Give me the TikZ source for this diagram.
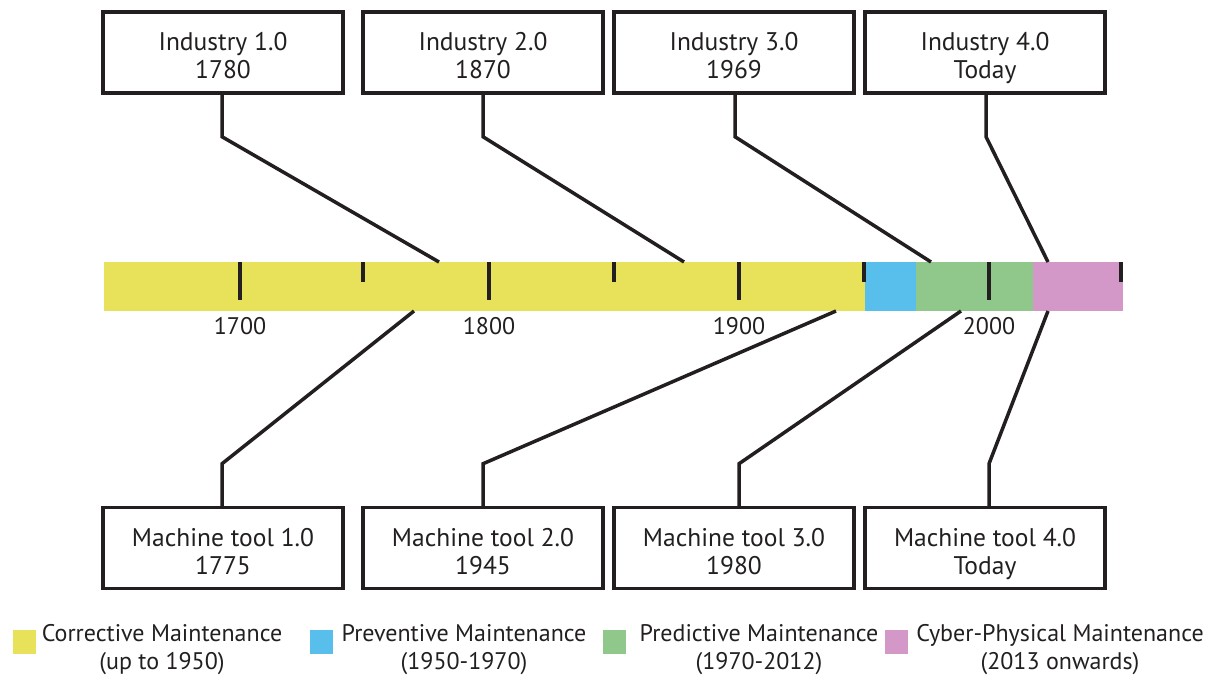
\documentclass[tikz,border=0pt]{standalone}
\usepackage{fontspec}
\setmainfont{PT Sans}
\definecolor{cyel}{RGB}{232,226,90}
\definecolor{cblu}{RGB}{88,190,236}
\definecolor{cgrn}{RGB}{144,200,140}
\definecolor{cpnk}{RGB}{212,152,200}
\definecolor{ink}{RGB}{35,31,32}
\newcommand{\lowline}{\vphantom{y}}
\newcommand{\highline}{\rule{0pt}{30pt}}
\begin{document}
\begin{tikzpicture}[x=1pt,y=-1pt,
  box/.style={draw=ink, line width=3.5pt, fill=white, minimum width=240pt, minimum height=81pt,
    align=center, inner sep=0pt, text=ink, font=\fontsize{25.5}{28}\selectfont},
  conn/.style={line width=3.5pt, draw=ink, line join=miter},
  tickmark/.style={line width=3.5pt, draw=ink},
  yearlbl/.style={font=\fontsize{24}{27}\selectfont, inner sep=0pt, text=ink},
  legtxt/.style={align=center, inner sep=0pt, text=ink, font=\fontsize{24}{28}\selectfont},
  legsq/.style={minimum width=23pt, minimum height=24pt, inner sep=0pt}
]
\useasboundingbox (0,0) rectangle (1210,679);
% bar
\fill[cyel] (104,262) rectangle (865,311);
\fill[cblu] (865,262) rectangle (916,311);
\fill[cgrn] (916,262) rectangle (1033,311);
\fill[cpnk] (1033,262) rectangle (1123,311);
% ticks
\foreach \x in {240,489,739,989} \draw[tickmark] (\x,262) -- (\x,300);
\foreach \x in {363,614,864,1121} \draw[tickmark] (\x,262) -- (\x,282);
% year labels
\node[yearlbl] (y1700) at (240,326) {1700};
\node[yearlbl] (y1800) at (489,326) {1800};
\node[yearlbl] (y1900) at (739,326) {1900};
\node[yearlbl] (y2000) at (989,326) {2000};
% top boxes
\node[box] (i1) at (223,52.5) {\highline Industry 1.0\\1780\lowline};
\node[box] (i2) at (483,52.5) {\highline Industry 2.0\\1870\lowline};
\node[box] (i3) at (734,52.5) {\highline Industry 3.0\\1969\lowline};
\node[box] (i4) at (985,52.5) {\highline Industry 4.0\\Today\lowline};
% bottom boxes
\node[box] (m1) at (223,548) {\highline Machine tool 1.0\\1775\lowline};
\node[box] (m2) at (483,548) {\highline Machine tool 2.0\\1945\lowline};
\node[box] (m3) at (734,548) {\highline Machine tool 3.0\\1980\lowline};
\node[box] (m4) at (985,548) {\highline Machine tool 4.0\\Today\lowline};
% bar attachment points
\coordinate (c1) at (439,262);
\coordinate (c2) at (684,262);
\coordinate (c3) at (931,262);
\coordinate (c4) at (1048,262);
\coordinate (d1) at (414,311);
\coordinate (d2) at (836,311);
\coordinate (d3) at (961,311);
\coordinate (d4) at (1048,311);
% connectors
\draw[conn] ([xshift=-1pt]i1.south) -- ++(0,42) -- (c1);
\draw[conn] (i2.south) -- ++(0,42) -- (c2);
\draw[conn] ([xshift=1pt]i3.south) -- ++(0,42) -- (c3);
\draw[conn] ([xshift=1pt]i4.south) -- ++(0,42) -- (c4);
\draw[conn] ([xshift=-1pt]m1.north) -- ++(0,-42) -- (d1);
\draw[conn] (m2.north) -- ++(0,-42) -- (d2);
\draw[conn] ([xshift=5pt]m3.north) -- ++(0,-42) -- (d3);
\draw[conn] ([xshift=4pt]m4.north) -- ++(0,-42) -- (d4);
% legend
\node[legsq, fill=cyel] (sq1) at (24.5,641.5) {};
\node[legsq, fill=cblu] (sq2) at (321,641.5) {};
\node[legsq, fill=cgrn] (sq3) at (614,641.5) {};
\node[legsq, fill=cpnk] (sq4) at (896,641.5) {};
\node[legtxt] (l1) at (162,650) {Corrective Maintenance\\(up to 1950)};
\node[legtxt] (l2) at (464,650) {Preventive Maintenance\\(1950-1970)};
\node[legtxt] (l3) at (759,650) {Predictive Maintenance\\(1970-2012)};
\node[legtxt] (l4) at (1060,650) {Cyber-Physical Maintenance\\(2013 onwards)};
\end{tikzpicture}
\end{document}
